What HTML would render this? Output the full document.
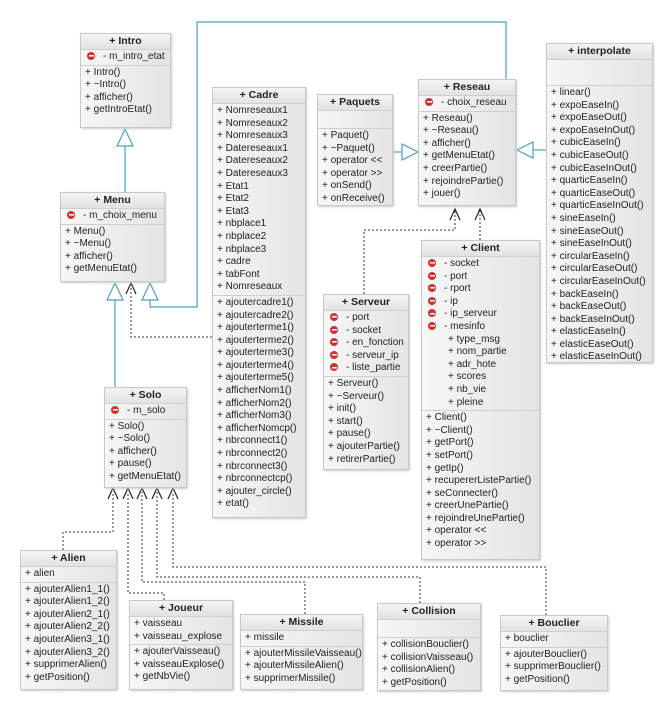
<!DOCTYPE html>
<html><head><meta charset="utf-8"><style>
body{margin:0;width:666px;height:706px;background:#fff;position:relative;overflow:hidden;font-family:"Liberation Sans",Arial,sans-serif;font-size:10px;color:#222}
.b{position:absolute;border:1px solid #c8c8c8;background:linear-gradient(to right,#f6f6f6,#e4e4e4);box-shadow:1px 1px 2px #ccc;box-sizing:border-box}
.h{font-weight:bold;text-align:center;height:15px;line-height:15px;font-size:10.5px;border-bottom:1px solid #cfcfcf;background:linear-gradient(#f4f4f4,#e2e2e2)}
.s{border-bottom:1px solid #cfcfcf;padding:1px 0 1px 4px}
.s:last-child{border-bottom:none}
.r{height:12.6px;line-height:12.6px;white-space:nowrap}
.p::before{content:"";display:inline-block;width:8px;height:8px;border-radius:50%;background:#d03030 linear-gradient(#fff,#fff) center/5px 1.5px no-repeat;margin:0 8px 0 2px;vertical-align:-1px}
.i{padding-left:22px}
</style></head><body>
<svg width="666" height="706" style="position:absolute;left:0;top:0">
<g fill="none" stroke="#4aa0c8" stroke-width="1.2">
<path d="M125 192V146"/><path d="M117 146h16l-8-17z" fill="#fff"/>
<path d="M115 387V300"/><path d="M107 300h16l-8-17z" fill="#fff"/>
<path d="M150 300V307H197V22H506V79"/><path d="M142 300h16l-8-17z" fill="#fff"/>
<path d="M393 152H402"/><path d="M402 144v16l16-8z" fill="#fff"/>
<path d="M546 150H533"/><path d="M533 142v16l-16-8z" fill="#fff"/>
</g>
<g fill="none" stroke="#333" stroke-width="1" stroke-dasharray="2,2">
<path d="M212 337H131V287"/>
<path d="M364 294V230H455V210"/><path d="M480 240V210"/>
<path d="M63 550V532H113V492"/>
<path d="M164 600V593H128V492"/>
<path d="M305 614V582H142V492"/>
<path d="M420 603V577H157V492"/>
<path d="M546 615V567H173V492"/>
</g>
<g fill="none" stroke="#222" stroke-width="1.2">
<path d="M126 294L131 283L136 294"/>
<path d="M450 220L455 209L460 220"/><path d="M475 220L480 209L485 220"/>
<path d="M108 499L113 488L118 499"/><path d="M123 499L128 488L133 499"/><path d="M137 499L142 488L147 499"/><path d="M152 499L157 488L162 499"/><path d="M168 499L173 488L178 499"/>
</g></svg>

<div class="b" style="left:80px;top:33px;width:91px;height:95px"><div class="h">+ Intro</div><div class="s"><div class="r p">- m_intro_etat</div></div><div class="s"><div class="r">+ Intro()</div><div class="r">+ ~Intro()</div><div class="r">+ afficher()</div><div class="r">+ getIntroEtat()</div></div></div>

<div class="b" style="left:60px;top:192px;width:105px;height:90px"><div class="h">+ Menu</div><div class="s"><div class="r p">- m_choix_menu</div></div><div class="s"><div class="r">+ Menu()</div><div class="r">+ ~Menu()</div><div class="r">+ afficher()</div><div class="r">+ getMenuEtat()</div></div></div>

<div class="b" style="left:212px;top:87px;width:94px;height:431px"><div class="h">+ Cadre</div><div class="s"><div class="r">+ Nomreseaux1</div><div class="r">+ Nomreseaux2</div><div class="r">+ Nomreseaux3</div><div class="r">+ Datereseaux1</div><div class="r">+ Datereseaux2</div><div class="r">+ Datereseaux3</div><div class="r">+ Etat1</div><div class="r">+ Etat2</div><div class="r">+ Etat3</div><div class="r">+ nbplace1</div><div class="r">+ nbplace2</div><div class="r">+ nbplace3</div><div class="r">+ cadre</div><div class="r">+ tabFont</div><div class="r">+ Nomreseaux</div></div><div class="s"><div class="r">+ ajoutercadre1()</div><div class="r">+ ajoutercadre2()</div><div class="r">+ ajouterterme1()</div><div class="r">+ ajouterterme2()</div><div class="r">+ ajouterterme3()</div><div class="r">+ ajouterterme4()</div><div class="r">+ ajouterterme5()</div><div class="r">+ afficherNom1()</div><div class="r">+ afficherNom2()</div><div class="r">+ afficherNom3()</div><div class="r">+ afficherNomcp()</div><div class="r">+ nbrconnect1()</div><div class="r">+ nbrconnect2()</div><div class="r">+ nbrconnect3()</div><div class="r">+ nbrconnectcp()</div><div class="r">+ ajouter_circle()</div><div class="r">+ etat()</div></div></div>

<div class="b" style="left:317px;top:94px;width:76px;height:112px"><div class="h">+ Paquets</div><div class="s" style="height:15px"></div><div class="s"><div class="r">+ Paquet()</div><div class="r">+ ~Paquet()</div><div class="r">+ operator &lt;&lt;</div><div class="r">+ operator &gt;&gt;</div><div class="r">+ onSend()</div><div class="r">+ onReceive()</div></div></div>

<div class="b" style="left:418px;top:79px;width:98px;height:127px"><div class="h">+ Reseau</div><div class="s"><div class="r p">- choix_reseau</div></div><div class="s"><div class="r">+ Reseau()</div><div class="r">+ ~Reseau()</div><div class="r">+ afficher()</div><div class="r">+ getMenuEtat()</div><div class="r">+ creerPartie()</div><div class="r">+ rejoindrePartie()</div><div class="r">+ jouer()</div></div></div>

<div class="b" style="left:546px;top:43px;width:107px;height:320px"><div class="h">+ interpolate</div><div class="s" style="height:23px"></div><div class="s"><div class="r">+ linear()</div><div class="r">+ expoEaseIn()</div><div class="r">+ expoEaseOut()</div><div class="r">+ expoEaseInOut()</div><div class="r">+ cubicEaseIn()</div><div class="r">+ cubicEaseOut()</div><div class="r">+ cubicEaseInOut()</div><div class="r">+ quarticEaseIn()</div><div class="r">+ quarticEaseOut()</div><div class="r">+ quarticEaseInOut()</div><div class="r">+ sineEaseIn()</div><div class="r">+ sineEaseOut()</div><div class="r">+ sineEaseInOut()</div><div class="r">+ circularEaseIn()</div><div class="r">+ circularEaseOut()</div><div class="r">+ circularEaseInOut()</div><div class="r">+ backEaseIn()</div><div class="r">+ backEaseOut()</div><div class="r">+ backEaseInOut()</div><div class="r">+ elasticEaseIn()</div><div class="r">+ elasticEaseOut()</div><div class="r">+ elasticEaseInOut()</div></div></div>

<div class="b" style="left:421px;top:240px;width:119px;height:320px"><div class="h">+ Client</div><div class="s"><div class="r p">- socket</div><div class="r p">- port</div><div class="r p">- rport</div><div class="r p">- ip</div><div class="r p">- ip_serveur</div><div class="r p">- mesinfo</div><div class="r i">+ type_msg</div><div class="r i">+ nom_partie</div><div class="r i">+ adr_hote</div><div class="r i">+ scores</div><div class="r i">+ nb_vie</div><div class="r i">+ pleine</div></div><div class="s"><div class="r">+ Client()</div><div class="r">+ ~Client()</div><div class="r">+ getPort()</div><div class="r">+ setPort()</div><div class="r">+ getIp()</div><div class="r">+ recupererListePartie()</div><div class="r">+ seConnecter()</div><div class="r">+ creerUnePartie()</div><div class="r">+ rejoindreUnePartie()</div><div class="r">+ operator &lt;&lt;</div><div class="r">+ operator &gt;&gt;</div></div></div>

<div class="b" style="left:323px;top:294px;width:86px;height:176px"><div class="h">+ Serveur</div><div class="s"><div class="r p">- port</div><div class="r p">- socket</div><div class="r p">- en_fonction</div><div class="r p">- serveur_ip</div><div class="r p">- liste_partie</div></div><div class="s"><div class="r">+ Serveur()</div><div class="r">+ ~Serveur()</div><div class="r">+ init()</div><div class="r">+ start()</div><div class="r">+ pause()</div><div class="r">+ ajouterPartie()</div><div class="r">+ retirerPartie()</div></div></div>

<div class="b" style="left:104px;top:387px;width:83px;height:101px"><div class="h">+ Solo</div><div class="s"><div class="r p">- m_solo</div></div><div class="s"><div class="r">+ Solo()</div><div class="r">+ ~Solo()</div><div class="r">+ afficher()</div><div class="r">+ pause()</div><div class="r">+ getMenuEtat()</div></div></div>

<div class="b" style="left:20px;top:550px;width:97px;height:140px"><div class="h">+ Alien</div><div class="s"><div class="r">+ alien</div></div><div class="s"><div class="r">+ ajouterAlien1_1()</div><div class="r">+ ajouterAlien1_2()</div><div class="r">+ ajouterAlien2_1()</div><div class="r">+ ajouterAlien2_2()</div><div class="r">+ ajouterAlien3_1()</div><div class="r">+ ajouterAlien3_2()</div><div class="r">+ supprimerAlien()</div><div class="r">+ getPosition()</div></div></div>

<div class="b" style="left:129px;top:600px;width:104px;height:90px"><div class="h">+ Joueur</div><div class="s"><div class="r">+ vaisseau</div><div class="r">+ vaisseau_explose</div></div><div class="s"><div class="r">+ ajouterVaisseau()</div><div class="r">+ vaisseauExplose()</div><div class="r">+ getNbVie()</div></div></div>

<div class="b" style="left:240px;top:614px;width:123px;height:76px"><div class="h">+ Missile</div><div class="s"><div class="r">+ missile</div></div><div class="s"><div class="r">+ ajouterMissileVaisseau()</div><div class="r">+ ajouterMissileAlien()</div><div class="r">+ supprimerMissile()</div></div></div>

<div class="b" style="left:377px;top:603px;width:104px;height:88px"><div class="h">+ Collision</div><div class="s" style="height:15px"></div><div class="s"><div class="r">+ collisionBouclier()</div><div class="r">+ collisionVaisseau()</div><div class="r">+ collisionAlien()</div><div class="r">+ getPosition()</div></div></div>

<div class="b" style="left:500px;top:615px;width:108px;height:76px"><div class="h">+ Bouclier</div><div class="s"><div class="r">+ bouclier</div></div><div class="s"><div class="r">+ ajouterBouclier()</div><div class="r">+ supprimerBouclier()</div><div class="r">+ getPosition()</div></div></div>
</body></html>
